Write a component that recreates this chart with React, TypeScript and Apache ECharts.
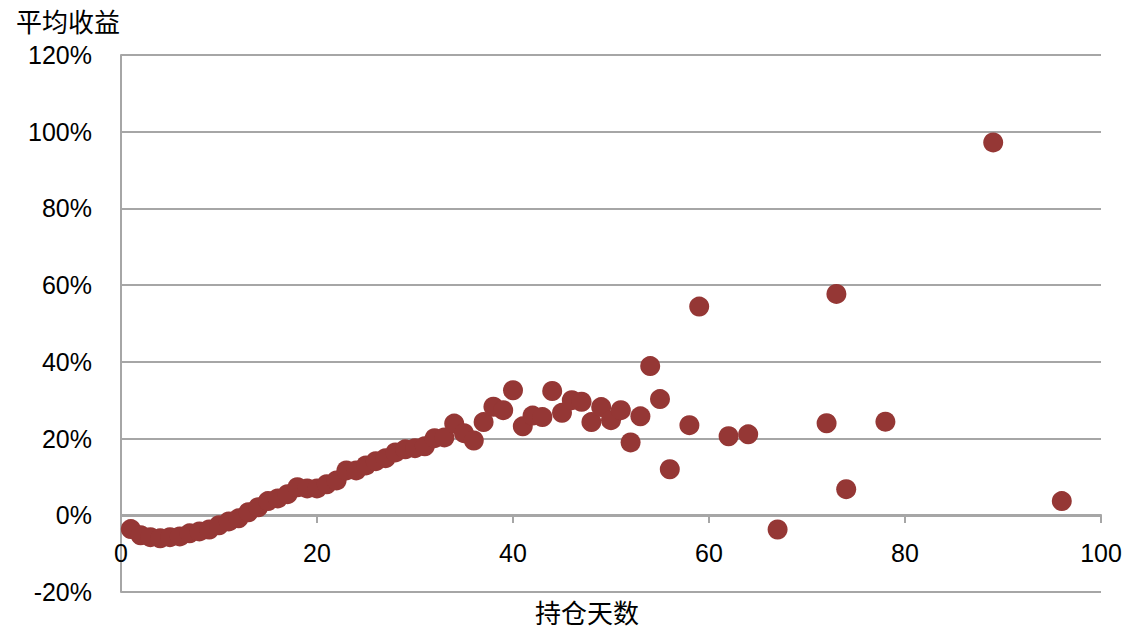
import React, { useEffect, useRef } from "react";
import * as echarts from "echarts";

const holdDays = [
  1, 2, 3, 4, 5, 6, 7, 8, 9, 10,
  11, 12, 13, 14, 15, 16, 17, 18, 19, 20,
  21, 22, 23, 24, 25, 26, 27, 28, 29, 30,
  31, 32, 33, 34, 35, 36, 37, 38, 39, 40,
  41, 42, 43, 44, 45, 46, 47, 48, 49, 50,
  51, 52, 53, 54, 55, 56, 58, 59, 62, 64,
  67, 72, 73, 74, 78, 89, 96,
];
const avgReturn = [
  -3.6, -5.2, -5.7, -6.0, -5.7, -5.5, -4.7, -4.2, -3.7, -2.6,
  -1.6, -0.8, 0.8, 2.1, 3.7, 4.4, 5.5, 7.3, 7.0, 7.0,
  8.1, 9.1, 11.7, 11.7, 13.0, 14.1, 14.9, 16.4, 17.2, 17.5,
  18.0, 20.1, 20.3, 23.9, 21.4, 19.5, 24.3, 28.3, 27.4, 32.6,
  23.2, 26.0, 25.6, 32.4, 26.7, 30.0, 29.6, 24.3, 28.2, 24.8,
  27.4, 19.0, 25.8, 38.9, 30.3, 12.0, 23.5, 54.4, 20.6, 21.1,
  -3.7, 24.0, 57.7, 6.8, 24.4, 97.2, 3.7,
];

const yTicks = [-20, 0, 20, 40, 60, 80, 100, 120];
const xTicks = [0, 20, 40, 60, 80, 100];
const yName = "平均收益";
const xName = "持仓天数";

const FONT = "'Liberation Sans', 'Noto Sans CJK SC', sans-serif";
const CJK = "'Noto Sans CJK SC', sans-serif";

export default function App() {
  const ref = useRef<HTMLDivElement>(null);
  useEffect(() => {
    if (!ref.current) return;
    const chart = echarts.init(ref.current, undefined, { renderer: "svg" });
    const data = holdDays.map((d, i) => [d, avgReturn[i]]);
    chart.setOption({
      animation: false,
      backgroundColor: "#ffffff",
      grid: { left: 121, right: 30, top: 55, bottom: 44, containLabel: false },
      xAxis: {
        type: "value",
        min: xTicks[0],
        max: xTicks[xTicks.length - 1],
        interval: 20,
        position: "bottom",
        offset: -77,
        axisLine: { show: true, onZero: false, lineStyle: { color: "#a6a6a6", width: 2 } },
        axisTick: { show: true, length: 8, lineStyle: { color: "#a6a6a6", width: 2 } },
        axisLabel: { color: "#000", fontSize: 25, fontFamily: FONT, margin: 25 },
        splitLine: { show: false },
      },
      yAxis: {
        type: "value",
        min: yTicks[0],
        max: yTicks[yTicks.length - 1],
        interval: 20,
        axisLine: { show: true, lineStyle: { color: "#a6a6a6", width: 2 } },
        axisTick: { show: false },
        axisLabel: {
          color: "#000",
          fontSize: 25,
          fontFamily: FONT,
          margin: 29,
          formatter: (v: number) => `${v}%`,
        },
        splitLine: { show: true, lineStyle: { color: "#a6a6a6", width: 2 } },
      },
      graphic: [
        {
          type: "text",
          left: 16,
          top: 7,
          style: { text: yName, fontSize: 26, fontFamily: CJK, fill: "#000" },
        },
        {
          type: "text",
          left: 535,
          top: 598,
          style: { text: xName, fontSize: 26, fontFamily: CJK, fill: "#000" },
        },
      ],
      series: [
        {
          type: "scatter",
          data,
          symbol: "circle",
          symbolSize: 20,
          itemStyle: { color: "#953735", opacity: 1 },
        },
      ],
    });
    return () => chart.dispose();
  }, []);
  return (
    <div
      ref={ref}
      style={{ position: "fixed", left: 0, top: 0, width: 1131, height: 636 }}
    />
  );
}
